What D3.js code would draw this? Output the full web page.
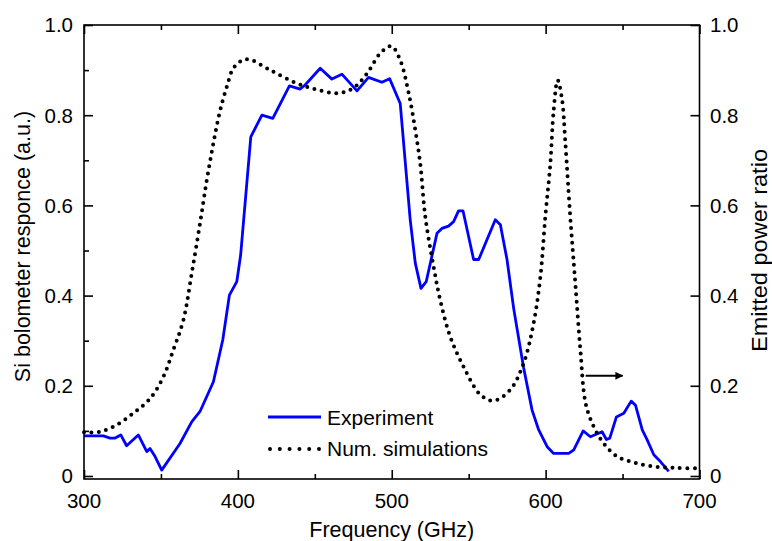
<!DOCTYPE html>
<html><head><meta charset="utf-8">
<script src="https://cdn.jsdelivr.net/npm/d3@7/dist/d3.min.js"></script>
<style>
html,body{margin:0;padding:0;background:#fff;}
text{font-family:"Liberation Sans",Arial,sans-serif;fill:#000;}
</style></head>
<body>
<svg id="chart" width="772" height="541"></svg>
<script>
// ---- data ----
const expFreq = [300,312.6,316.9,320.2,323.9,327.7,335.3,340.8,342.9,346.2,350.5,362.4,370,375.4,384.1,390.2,394.5,399.3,401.8,408.4,415.6,422.7,433.5,440.5,443.7,453.5,461.1,467.6,477.4,484.9,493.6,498.6,505.5,512,515.3,519,522.4,529.4,532.6,536.9,540.2,543.4,546.3,553.2,556.5,567.3,570.6,574.9,579.3,585.7,591.2,595.5,601,605.2,615,618.3,624.4,629.1,636.7,639.5,641.7,646,650.8,655.6,658.4,662.8,666,670.3,674.6,680];
const expVal  = [0.089,0.089,0.084,0.084,0.091,0.067,0.091,0.054,0.061,0.043,0.013,0.072,0.12,0.143,0.209,0.302,0.401,0.431,0.49,0.752,0.800,0.793,0.865,0.858,0.867,0.904,0.880,0.891,0.854,0.884,0.873,0.881,0.826,0.568,0.472,0.416,0.431,0.538,0.549,0.554,0.564,0.588,0.588,0.48,0.48,0.568,0.557,0.48,0.37,0.24,0.146,0.102,0.065,0.05,0.05,0.058,0.1,0.087,0.098,0.081,0.084,0.131,0.139,0.166,0.157,0.102,0.08,0.047,0.032,0.01];
const simFreq = [300,310,321,332,343,351.6,358,364.6,370,375.4,379.8,384.1,388.5,392.8,397,402,407,421,438,451,465,475,484,492.5,499.7,505.5,511,515.3,518.5,521.8,527.2,531.5,538,546.7,557.6,566.2,577,585.7,592.2,596.6,599.8,603,605.2,607.8,610.7,612.8,616,619.3,622.6,626,631.3,637.8,646.5,657.3,670.3,685,700];
const simVal  = [0.097,0.098,0.113,0.139,0.172,0.22,0.279,0.346,0.449,0.56,0.656,0.738,0.811,0.863,0.904,0.92,0.924,0.90,0.871,0.857,0.849,0.86,0.893,0.937,0.953,0.922,0.849,0.767,0.693,0.575,0.464,0.39,0.309,0.242,0.18,0.167,0.191,0.25,0.339,0.442,0.575,0.69,0.81,0.878,0.834,0.74,0.575,0.427,0.279,0.161,0.109,0.072,0.043,0.03,0.021,0.018,0.017];
const xTicks = [300,400,500,600,700];
const xMinor = [350,450,550,650];
const yTicks = [0,0.2,0.4,0.6,0.8,1.0];
const yMinor = [0.1,0.3,0.5,0.7,0.9];
const yTickLabels = ["0","0.2","0.4","0.6","0.8","1.0"];
const seriesNames = ["Experiment","Num. simulations"];
const arrowFrom = [626, 0.222];
const arrowTo = [650, 0.222];

// ---- layout ----
const svg = d3.select("#chart");
const L = 84, R = 699.5, T = 25, B = 479;
const x = d3.scaleLinear().domain([300,700]).range([L,R]);
const y = d3.scaleLinear().domain([-0.0067,1]).range([B,T]);

const gPlot = svg.append("g");

// curves
const expData = expFreq.map((f,i)=>[f,expVal[i]]);
const simData = simFreq.map((f,i)=>[f,simVal[i]]);
gPlot.append("path").datum(expData)
  .attr("d", d3.line().x(d=>x(d[0])).y(d=>y(d[1])))
  .attr("fill","none").attr("stroke","#0000ff").attr("stroke-width",2.8).attr("stroke-linejoin","round");
gPlot.append("path").datum(simData)
  .attr("d", d3.line().curve(d3.curveCatmullRom.alpha(0.5)).x(d=>x(d[0])).y(d=>y(d[1])))
  .attr("fill","none").attr("stroke","#000").attr("stroke-width",4)
  .attr("stroke-linecap","round").attr("stroke-dasharray","0 7.4");

// frame
svg.append("rect").attr("x",L).attr("y",T).attr("width",R-L).attr("height",B-T)
  .attr("fill","none").attr("stroke","#000").attr("stroke-width",1.6);

// axes (ticks inward)
const axBottom = d3.axisTop(x).tickValues(xTicks).tickSize(9).tickFormat("");
const axBottomMinor = d3.axisTop(x).tickValues(xMinor).tickSize(5).tickFormat("");
const axTop = d3.axisBottom(x).tickValues(xTicks).tickSize(9).tickFormat("");
const axTopMinor = d3.axisBottom(x).tickValues(xMinor).tickSize(5).tickFormat("");
const axLeft = d3.axisRight(y).tickValues(yTicks).tickSize(9).tickFormat("");
const axLeftMinor = d3.axisRight(y).tickValues(yMinor).tickSize(5).tickFormat("");
const axRight = d3.axisLeft(y).tickValues(yTicks).tickSize(9).tickFormat("");

function addAxis(ax, tx, ty){
  const g = svg.append("g").attr("transform",`translate(${tx},${ty})`).call(ax);
  g.select(".domain").remove();
  g.selectAll(".tick line").attr("stroke","#000").attr("stroke-width",1.6);
  return g;
}
addAxis(axBottom,0,B); addAxis(axBottomMinor,0,B);
addAxis(axTop,0,T); addAxis(axTopMinor,0,T);
addAxis(axLeft,L,0); addAxis(axLeftMinor,L,0);
addAxis(axRight,R,0);

// tick labels
svg.append("g").selectAll("text").data(xTicks).join("text")
  .attr("x",d=>x(d)).attr("y",508).attr("text-anchor","middle")
  .attr("font-size",20.5).text(d=>d);
svg.append("g").selectAll("text").data(yTicks).join("text")
  .attr("x",73).attr("y",d=>y(d)).attr("dy","0.36em").attr("text-anchor","end")
  .attr("font-size",20.5).text((d,i)=>yTickLabels[i]);
svg.append("g").selectAll("text").data(yTicks).join("text")
  .attr("x",710).attr("y",d=>y(d)).attr("dy","0.36em").attr("text-anchor","start")
  .attr("font-size",20.5).text((d,i)=>yTickLabels[i]);

// axis titles
svg.append("text").attr("x",(L+R)/2).attr("y",536.5).attr("text-anchor","middle")
  .attr("font-size",21.5).text("Frequency (GHz)");
svg.append("text").attr("transform","translate(29.5,246.5) rotate(-90)").attr("text-anchor","middle")
  .attr("font-size",21.5).text("Si bolometer responce (a.u.)");
svg.append("text").attr("transform","translate(766.5,250.5) rotate(-90)").attr("text-anchor","middle")
  .attr("font-size",21.5).attr("textLength",203).attr("lengthAdjust","spacingAndGlyphs").text("Emitted power ratio");

// arrow annotation
const defs = svg.append("defs");
defs.append("marker").attr("id","ah").attr("viewBox","0 0 10 10").attr("refX",9).attr("refY",5)
  .attr("markerWidth",12).attr("markerHeight",8).attr("markerUnits","userSpaceOnUse").attr("orient","auto")
  .append("path").attr("d","M0,0 L10,5 L0,10 z").attr("fill","#000");
svg.append("line").attr("x1",x(arrowFrom[0])).attr("y1",y(arrowFrom[1]))
  .attr("x2",x(arrowTo[0])).attr("y2",y(arrowTo[1]))
  .attr("stroke","#000").attr("stroke-width",2).attr("marker-end","url(#ah)");

// legend
const lg = svg.append("g");
lg.append("line").attr("x1",268).attr("x2",321).attr("y1",417).attr("y2",417)
  .attr("stroke","#0000ff").attr("stroke-width",2.8);
lg.append("line").attr("x1",270).attr("x2",320).attr("y1",449).attr("y2",449)
  .attr("stroke","#000").attr("stroke-width",4).attr("stroke-linecap","round").attr("stroke-dasharray","0 9.8");
lg.append("text").attr("x",327).attr("y",424.5).attr("font-size",21).text(seriesNames[0]);
lg.append("text").attr("x",327).attr("y",456).attr("font-size",21).text(seriesNames[1]);
</script>
</body></html>
